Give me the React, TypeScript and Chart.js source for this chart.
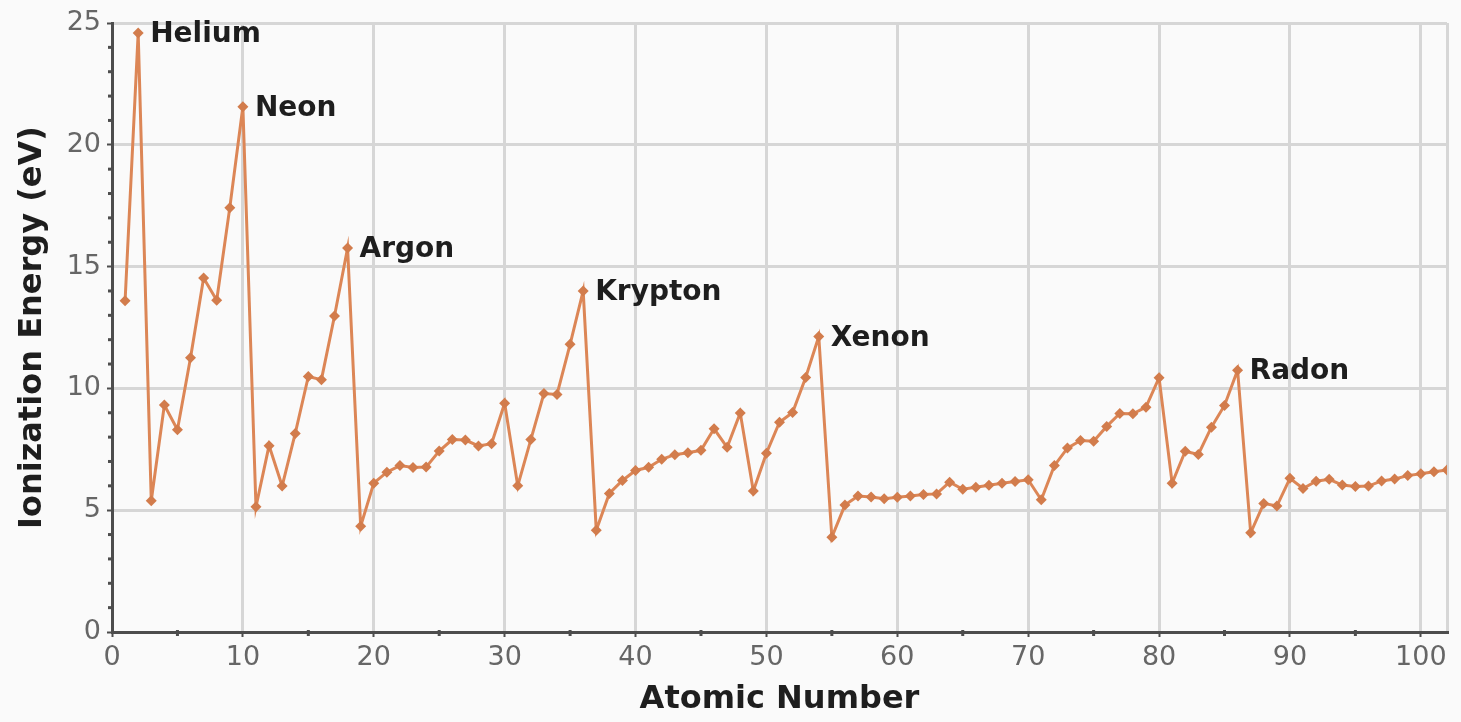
import React, { useEffect, useRef } from 'react';
import { Chart, registerables } from 'chart.js';

Chart.register(...registerables);

// First ionization energy (eV) for atomic numbers 1..102
const energies: number[] = [
  13.6, 24.59, 5.39, 9.32, 8.3, 11.26, 14.53, 13.62, 17.42, 21.56,
  5.14, 7.65, 5.99, 8.15, 10.49, 10.36, 12.97, 15.76, 4.34, 6.11,
  6.56, 6.83, 6.75, 6.77, 7.43, 7.9, 7.88, 7.64, 7.73, 9.39,
  6.0, 7.9, 9.79, 9.75, 11.81, 14.0, 4.18, 5.69, 6.22, 6.63,
  6.76, 7.09, 7.28, 7.36, 7.46, 8.34, 7.58, 8.99, 5.79, 7.34,
  8.61, 9.01, 10.45, 12.13, 3.89, 5.21, 5.58, 5.54, 5.47, 5.53,
  5.58, 5.64, 5.67, 6.15, 5.86, 5.94, 6.02, 6.11, 6.18, 6.25,
  5.43, 6.83, 7.55, 7.86, 7.83, 8.44, 8.97, 8.96, 9.23, 10.44,
  6.11, 7.42, 7.29, 8.41, 9.3, 10.75, 4.07, 5.28, 5.17, 6.31,
  5.89, 6.19, 6.27, 6.03, 5.97, 5.99, 6.2, 6.28, 6.42, 6.5,
  6.58, 6.65,
];
const atomicNumbers: number[] = energies.map((_, i) => i + 1);

const nobleGasNames: string[] = ['Helium', 'Neon', 'Argon', 'Krypton', 'Xenon', 'Radon'];
const nobleGasNumbers: number[] = [2, 10, 18, 36, 54, 86];

const xTickValues: number[] = [0, 10, 20, 30, 40, 50, 60, 70, 80, 90, 100, 102];
const xMinorTicks: number[] = [5, 15, 25, 35, 45, 55, 65, 75, 85, 95];
const yTickValues: number[] = [0, 5, 10, 15, 20, 25];

const xTitle = 'Atomic Number';
const yTitle = 'Ionization Energy (eV)';

const FONT = "'DejaVu Sans', sans-serif";
const LINE_COLOR = '#dc8656';
const POINT_COLOR = '#d27c4c';
const GRID_COLOR = '#d6d6d6';
const AXIS_COLOR = '#4d4d4d';

const labelPlugin = {
  id: 'nobleLabels',
  afterDatasetsDraw(chart: any) {
    const { ctx, scales } = chart;
    ctx.save();
    ctx.font = `bold 28px ${FONT}`;
    ctx.fillStyle = '#1e1e1e';
    ctx.textAlign = 'left';
    ctx.textBaseline = 'middle';
    nobleGasNames.forEach((name, i) => {
      const n = nobleGasNumbers[i];
      const px = scales.x.getPixelForValue(n);
      const py = scales.y.getPixelForValue(energies[n - 1]);
      ctx.fillText(name, px + 12, py + 2);
    });
    ctx.restore();
  },
};

const minorTickPlugin = {
  id: 'minorTicks',
  afterDraw(chart: any) {
    const { ctx, scales, chartArea } = chart;
    ctx.save();
    ctx.fillStyle = AXIS_COLOR;
    for (let v = 1; v < 25; v++) {
      if (v % 5 === 0) continue;
      const py = scales.y.getPixelForValue(v);
      ctx.fillRect(chartArea.left - 4, py - 1.5, 6, 3);
    }
    xMinorTicks.forEach((v) => {
      const px = scales.x.getPixelForValue(v);
      ctx.fillRect(px - 1.5, chartArea.bottom - 2, 3, 6);
    });
    ctx.restore();
  },
};

export default function App() {
  const canvasRef = useRef<HTMLCanvasElement | null>(null);

  useEffect(() => {
    const canvas = canvasRef.current;
    if (!canvas) return;
    const chart = new Chart(canvas, {
      type: 'line',
      data: {
        datasets: [
          {
            data: atomicNumbers.map((n, i) => ({ x: n, y: energies[i] })),
            borderColor: LINE_COLOR,
            borderWidth: 3,
            backgroundColor: POINT_COLOR,
            pointBackgroundColor: POINT_COLOR,
            pointBorderColor: POINT_COLOR,
            pointBorderWidth: 0,
            pointStyle: 'rectRot',
            pointRadius: 5.5,
            tension: 0,
            fill: false,
          },
        ],
      },
      options: {
        animation: false,
        responsive: false,
        maintainAspectRatio: false,
        layout: { padding: { top: 23, right: 14, left: 0, bottom: 0 } },
        plugins: {
          legend: { display: false },
          tooltip: { enabled: false },
        },
        scales: {
          x: {
            type: 'linear',
            min: 0,
            max: 102,
            afterBuildTicks(scale: any) {
              scale.ticks = xTickValues.map((v) => ({ value: v }));
            },
            afterFit(scale: any) {
              scale.height = 90;
            },
            ticks: {
              autoSkip: false,
              maxRotation: 0,
              color: '#666666',
              font: { family: FONT, size: 27 },
              padding: 5,
              callback: (v: any) => (v === 102 ? '' : String(v)),
            },
            grid: {
              color: GRID_COLOR,
              lineWidth: 3,
              tickLength: 5,
              tickColor: (c: any) => (c.tick && c.tick.value === 102 ? 'rgba(0,0,0,0)' : AXIS_COLOR),
              tickWidth: 2,
            },
            border: { color: AXIS_COLOR, width: 3 },
            title: {
              display: true,
              text: xTitle,
              color: '#1e1e1e',
              font: { family: FONT, size: 32, weight: 'bold' },
              padding: { top: 0, bottom: 3 },
            },
          },
          y: {
            type: 'linear',
            min: 0,
            max: 25,
            afterBuildTicks(scale: any) {
              scale.ticks = yTickValues.map((v) => ({ value: v }));
            },
            afterFit(scale: any) {
              scale.width = 112;
            },
            ticks: {
              color: '#666666',
              font: { family: FONT, size: 27 },
              padding: 6,
            },
            grid: {
              color: GRID_COLOR,
              lineWidth: 3,
              tickLength: 5,
              tickColor: AXIS_COLOR,
              tickWidth: 2,
            },
            border: { color: AXIS_COLOR, width: 3 },
            title: {
              display: true,
              text: yTitle,
              color: '#1e1e1e',
              font: { family: FONT, size: 32, weight: 'bold' },
              padding: { top: 13, bottom: 0 },
            },
          },
        },
      },
      plugins: [labelPlugin, minorTickPlugin],
    } as any);
    return () => chart.destroy();
  }, []);

  return (
    <div
      style={{
        position: 'fixed',
        left: 0,
        top: 0,
        width: 1461,
        height: 722,
        background: '#fafafa',
      }}
    >
      <canvas ref={canvasRef} width={1461} height={722} style={{ display: 'block' }} />
    </div>
  );
}
